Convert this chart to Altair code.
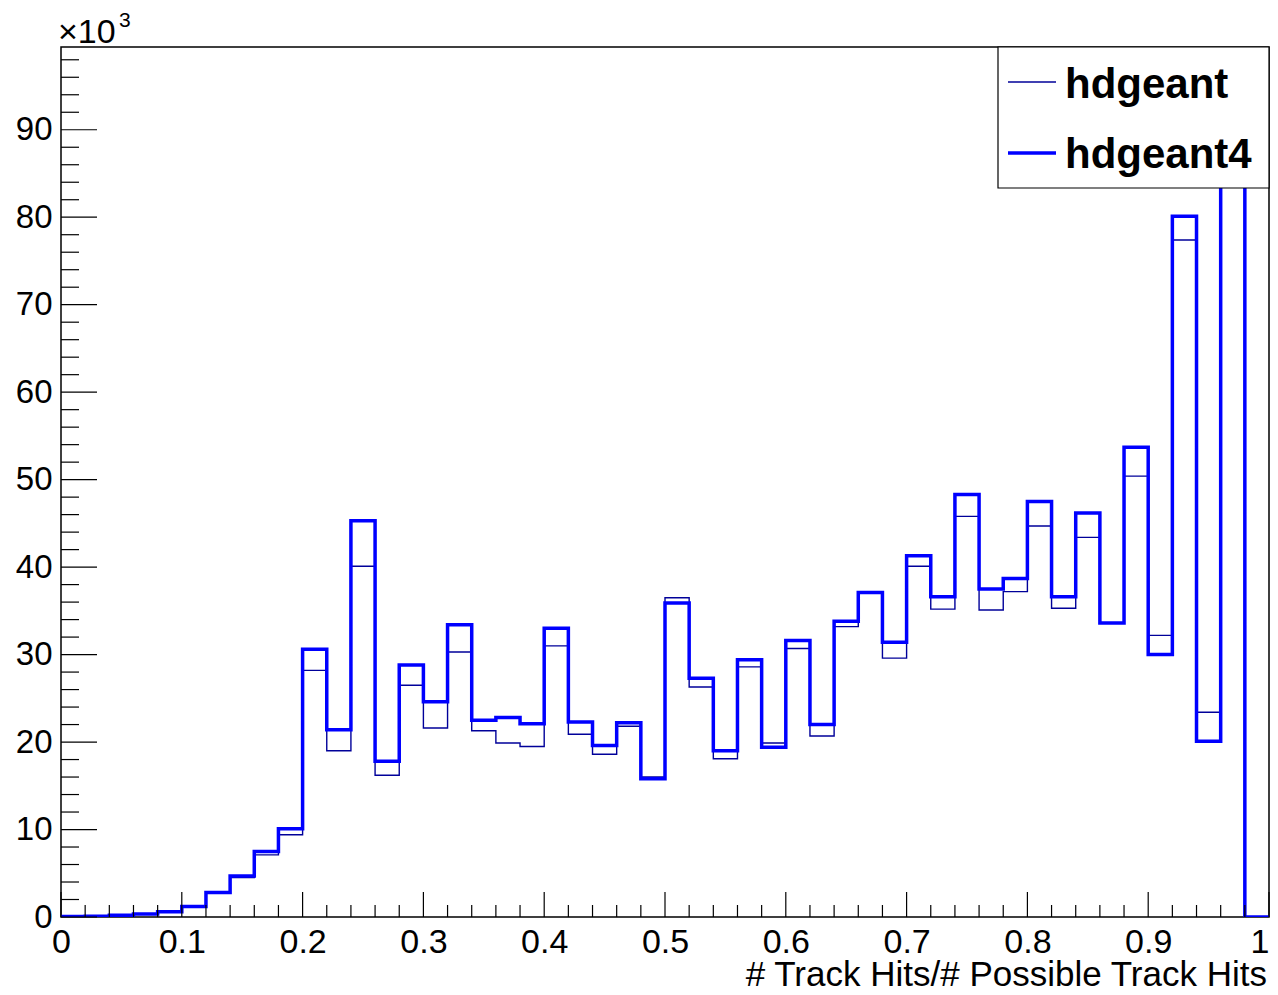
import altair as alt
import pandas as pd

FONT = "Liberation Sans"

# bin edges (width 0.02), the last value is the upper edge of the last bin
bin_edges = [0.00, 0.02, 0.04, 0.06, 0.08, 0.10, 0.12, 0.14, 0.16, 0.18,
             0.20, 0.22, 0.24, 0.26, 0.28, 0.30, 0.32, 0.34, 0.36, 0.38,
             0.40, 0.42, 0.44, 0.46, 0.48, 0.50, 0.52, 0.54, 0.56, 0.58,
             0.60, 0.62, 0.64, 0.66, 0.68, 0.70, 0.72, 0.74, 0.76, 0.78,
             0.80, 0.82, 0.84, 0.86, 0.88, 0.90, 0.92, 0.94, 0.96, 0.98, 1.00]

# bin contents in units of 10^3
hdgeant = [0.05, 0.1, 0.2, 0.3, 0.55, 1.1, 2.7, 4.5, 7.1, 9.4,
           28.2, 19.0, 40.1, 16.2, 26.5, 21.6, 30.3, 21.3, 19.9, 19.5,
           31.0, 20.9, 18.6, 21.8, 16.0, 36.5, 26.3, 18.1, 28.6, 19.9,
           30.7, 20.7, 33.2, 37.0, 29.6, 40.1, 35.2, 45.8, 35.1, 37.2,
           44.7, 35.3, 43.4, 33.6, 50.4, 32.2, 77.4, 23.4, 135.0, 0.0]
hdgeant4 = [0.05, 0.1, 0.2, 0.35, 0.6, 1.2, 2.8, 4.7, 7.5, 10.1,
            30.6, 21.4, 45.3, 17.8, 28.8, 24.6, 33.4, 22.5, 22.8, 22.1,
            33.0, 22.3, 19.6, 22.2, 15.8, 35.9, 27.3, 19.0, 29.4, 19.4,
            31.6, 22.0, 33.8, 37.1, 31.4, 41.3, 36.6, 48.3, 37.5, 38.7,
            47.5, 36.6, 46.2, 33.6, 53.7, 30.0, 80.1, 20.1, 140.0, 0.0]

x_major = [0, 0.1, 0.2, 0.3, 0.4, 0.5, 0.6, 0.7, 0.8, 0.9, 1.0]
y_major = [0, 10, 20, 30, 40, 50, 60, 70, 80, 90]
y_minor = [2, 4, 6, 8, 12, 14, 16, 18, 22, 24, 26, 28, 32, 34, 36, 38,
           42, 44, 46, 48, 52, 54, 56, 58, 62, 64, 66, 68, 72, 74, 76, 78,
           82, 84, 86, 88, 92, 94, 96, 98]
x_minor = [e for e in bin_edges if all(abs(e - m) > 1e-9 for m in x_major)]

W, H = 1208, 870
Y_MAX = 99.46


def step_frame(vals):
    xs = list(bin_edges)
    vs = list(vals) + [vals[-1]]
    return pd.DataFrame({"x": xs, "v": vs})


xscale = alt.Scale(domain=[0, 1], nice=False, zero=False)
yscale = alt.Scale(domain=[0, Y_MAX], nice=False, zero=True)


def x_axis():
    return alt.Axis(values=x_major, format="~g", ticks=False, domain=False, grid=False,
                    labelFontSize=34, labelPadding=8, labelFont=FONT, labelColor="black",
                    labelAlign={"condition": {"test": "datum.value >= 1", "value": "right"},
                                "value": "center"},
                    labelFlush=False, labelOverlap=False, title=None)


def y_axis():
    return alt.Axis(values=y_major, format="d", ticks=False, domain=False, grid=False,
                    labelFontSize=33, labelPadding=9, labelFont=FONT, labelColor="black",
                    labelFlush=False, labelOverlap=False, title=None)


thin = alt.Chart(step_frame(hdgeant)).mark_line(
    interpolate="step-after", color="#000099", strokeWidth=1.4, clip=True
).encode(
    x=alt.X("x:Q", scale=xscale, axis=x_axis()),
    y=alt.Y("v:Q", scale=yscale, axis=y_axis()),
)

thick = alt.Chart(step_frame(hdgeant4)).mark_line(
    interpolate="step-after", color="#0000ff", strokeWidth=3.5, clip=True
).encode(
    x=alt.X("x:Q", scale=xscale, axis=x_axis()),
    y=alt.Y("v:Q", scale=yscale, axis=y_axis()),
)

one = alt.Data(values=[{"a": 1}])

xmaj = alt.Chart(pd.DataFrame({"x": x_major})).mark_rule(color="black", strokeWidth=1.2).encode(
    x=alt.X("x:Q", scale=xscale, axis=x_axis()), y=alt.value(H), y2=alt.value(H - 25))
xmin = alt.Chart(pd.DataFrame({"x": x_minor})).mark_rule(color="black", strokeWidth=1.2).encode(
    x=alt.X("x:Q", scale=xscale, axis=x_axis()), y=alt.value(H), y2=alt.value(H - 12))
ymaj = alt.Chart(pd.DataFrame({"v": y_major})).mark_rule(color="black", strokeWidth=1.2).encode(
    y=alt.Y("v:Q", scale=yscale, axis=y_axis()), x=alt.value(0), x2=alt.value(36))
ymin = alt.Chart(pd.DataFrame({"v": y_minor})).mark_rule(color="black", strokeWidth=1.2).encode(
    y=alt.Y("v:Q", scale=yscale, axis=y_axis()), x=alt.value(0), x2=alt.value(18))

# legend box
leg_box = alt.Chart(one).mark_rect(fill="white", stroke="black", strokeWidth=1.2).encode(
    x=alt.value(937), x2=alt.value(W), y=alt.value(0), y2=alt.value(141))
leg_l1 = alt.Chart(one).mark_rule(color="#000099", strokeWidth=1.4).encode(
    x=alt.value(947), x2=alt.value(995), y=alt.value(35))
leg_l2 = alt.Chart(one).mark_rule(color="#0000ff", strokeWidth=3.5).encode(
    x=alt.value(947), x2=alt.value(995), y=alt.value(106))
leg_t1 = alt.Chart(one).mark_text(
    text="hdgeant", font=FONT, fontSize=42, fontWeight="bold", align="left",
    baseline="alphabetic", color="black").encode(x=alt.value(1004), y=alt.value(51))
leg_t2 = alt.Chart(one).mark_text(
    text="hdgeant4", font=FONT, fontSize=42, fontWeight="bold", align="left",
    baseline="alphabetic", color="black").encode(x=alt.value(1004), y=alt.value(121))

# exponent label
exp_main = alt.Chart(one).mark_text(
    text="×10", font=FONT, fontSize=34, align="left", baseline="alphabetic",
    color="black").encode(x=alt.value(-3), y=alt.value(-4))
exp_sup = alt.Chart(one).mark_text(
    text="3", font=FONT, fontSize=21, align="left", baseline="alphabetic",
    color="black").encode(x=alt.value(58), y=alt.value(-20))

# x axis title
x_title = alt.Chart(one).mark_text(
    text="# Track Hits/# Possible Track Hits", font=FONT, fontSize=35, align="right",
    baseline="alphabetic", color="black").encode(x=alt.value(W - 2), y=alt.value(H + 69))

chart = alt.layer(
    thin, thick, xmaj, xmin, ymaj, ymin,
    leg_box, leg_l1, leg_l2, leg_t1, leg_t2,
    exp_main, exp_sup, x_title,
).properties(
    width=W, height=H,
    autosize=alt.AutoSizeParams(type="none"),
    padding={"left": 53, "top": 39, "right": 1, "bottom": 70},
    background="white",
).configure_view(
    stroke="black", strokeWidth=1.5
)

chart.save("out.html", embed_options={"renderer": "svg", "actions": False})
